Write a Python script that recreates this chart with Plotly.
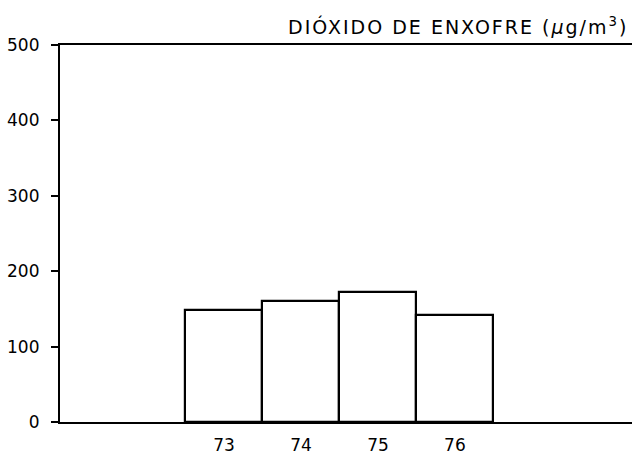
import plotly.graph_objects as go

years = [73, 74, 75, 76]
year_labels = ["73", "74", "75", "76"]
so2_values = [148, 160, 172, 142]
y_ticks = [0, 100, 200, 300, 400, 500]
title_text = "DIÓXIDO DE ENXOFRE (<i>μ</i>g/m<sup>3</sup>)"

fig = go.Figure()
fig.add_trace(go.Bar(
    x=years, y=so2_values, width=1,
    marker=dict(color="white", line=dict(color="black", width=2.2)),
    showlegend=False,
))

fam = "DejaVu Sans, Liberation Sans, Arial, sans-serif"
font = dict(family=fam, size=17, color="black")

fig.update_layout(
    width=635, height=459,
    margin=dict(l=60, r=3, t=45, b=37),
    paper_bgcolor="white", plot_bgcolor="white",
    bargap=0,
    font=font,
    xaxis=dict(
        range=[70.87, 78.3],
        tickvals=years, ticktext=year_labels,
        showline=True, linecolor="black", linewidth=2.2, mirror=True,
        showgrid=False, zeroline=False, ticks="", ticklabelstandoff=6,
    ),
    yaxis=dict(
        range=[0, 500],
        tickvals=y_ticks,
        showline=True, linecolor="black", linewidth=2.2,
        showgrid=False, zeroline=False,
        ticks="outside", ticklen=7, tickwidth=2, tickcolor="black",
        ticklabelstandoff=8,
    ),
    annotations=[dict(
        text=title_text, xref="paper", yref="paper",
        x=(458 - 60) / 572, y=1.0, xanchor="center", yanchor="bottom", yshift=5,
        showarrow=False, font=dict(family=fam, size=19, color="black"),
    )],
)

post = (
    "document.body.style.margin='0';"
    "document.querySelectorAll('.annotation-text').forEach(function(e){e.style.letterSpacing='2px';});"
)
fig.write_html("out.html", post_script=post, config={"displayModeBar": False})
